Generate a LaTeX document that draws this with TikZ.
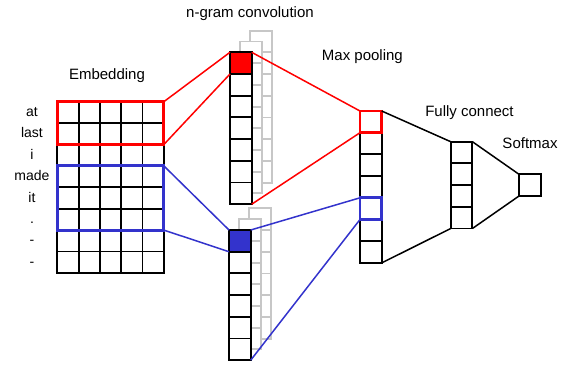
\documentclass[tikz,border=0pt]{standalone}
\usepackage{fontspec}
\setmainfont{Liberation Sans}
\usetikzlibrary{positioning,fit}
\definecolor{winblue}{RGB}{51,51,204}

\begin{document}
\begin{tikzpicture}[x=1pt,y=1pt,node distance=21.7pt,line width=1.9pt,
  cell/.style={rectangle,draw=black,fill=white,minimum size=21.7pt,inner sep=0pt,outer sep=0pt},
  embcell/.style={cell,minimum size=21.4pt},
  ghost/.style={cell,draw=black!22},
  window/.style={rectangle,line width=2.9pt,inner sep=0pt,outer sep=0pt},
  link/.style={line width=1.5pt},
  title/.style={font=\fontsize{15}{18}\selectfont},
  word/.style={font=\fontsize{14}{16}\selectfont,text height=10.5pt,text depth=2.5pt,inner sep=0pt}]

  \useasboundingbox (0,0) rectangle (567,-365);

  % titles
  \node[title] (tEmb) at (107,-75.7) {Embedding};
  \node[title] (tConv) at (250,-13.5) {n-gram convolution};
  \node[title] (tPool) at (362.4,-56.7) {Max pooling};
  \node[title] (tFc) at (469.5,-112.5) {Fully connect};
  \node[title] (tSoft) at (530,-142.7) {Softmax};

  % embedding matrix
  \foreach \r in {1,...,8}
    \foreach \c in {1,...,5}
      \node[embcell] (e\r\c) at ({46.65+21.3*\c},{-91-21.4*\r}) {};
  \foreach \w [count=\r] in {at,last,i,made,it,.,-,-}
    \node[word] (w\r) at ([xshift=-25.3pt]e\r1.west) {\w};

  \node[window,draw=red,fit=(e11)(e25)] (redwin) {};
  \node[window,draw=winblue,fit=(e41)(e65)] (bluewin) {};

  % convolution, upper (7 rows)
  \node[ghost] (gb1) at (261.25,-41.55) {};
  \foreach \i [remember=\i as \j (initially 1)] in {2,...,7}
    \node[ghost] (gb\i) [below of=gb\j] {};
  \node[ghost] (ga1) at (251.05,-52.35) {};
  \foreach \i [remember=\i as \j (initially 1)] in {2,...,7}
    \node[ghost] (ga\i) [below of=ga\j] {};
  \node[cell,fill=red] (ca1) at (240.85,-63.15) {};
  \foreach \i [remember=\i as \j (initially 1)] in {2,...,7}
    \node[cell] (ca\i) [below of=ca\j] {};

  % convolution, lower (6 rows)
  \node[ghost] (hb1) at (260.25,-219.25) {};
  \foreach \i [remember=\i as \j (initially 1)] in {2,...,6}
    \node[ghost] (hb\i) [below of=hb\j] {};
  \node[ghost] (ha1) at (250.05,-230.05) {};
  \foreach \i [remember=\i as \j (initially 1)] in {2,...,6}
    \node[ghost] (ha\i) [below of=ha\j] {};
  \node[cell,fill=winblue] (cb1) at (239.85,-240.85) {};
  \foreach \i [remember=\i as \j (initially 1)] in {2,...,6}
    \node[cell] (cb\i) [below of=cb\j] {};

  % max pooling
  \node[cell] (p1) at (370.85,-121.85) {};
  \foreach \i [remember=\i as \j (initially 1)] in {2,...,7}
    \node[cell] (p\i) [below of=p\j] {};
  \node[window,draw=red,fit=(p1)] (predwin) {};
  \node[window,draw=winblue,fit=(p5)] (pbluewin) {};

  % fully connected + softmax
  \node[cell] (f1) at (461.55,-152.55) {};
  \foreach \i [remember=\i as \j (initially 1)] in {2,...,4}
    \node[cell] (f\i) [below of=f\j] {};
  \node[cell] (sm) at (529.85,-185.15) {};

  % connectors
  \draw[link,red] (redwin.north east) -- (ca1.north west);
  \draw[link,red] (redwin.south east) -- (ca1.south west);
  \draw[link,red] (ca1.north east) -- (predwin.north west);
  \draw[link,red] (ca7.south east) -- (predwin.south west);

  \draw[link,winblue] (bluewin.north east) -- (cb1.north west);
  \draw[link,winblue] (bluewin.south east) -- (cb1.south west);
  \draw[link,winblue] (cb1.north east) -- (pbluewin.north west);
  \draw[link,winblue] (cb6.south east) -- (pbluewin.south west);

  \draw[link] (p1.north east) -- (f1.north west);
  \draw[link] (p7.south east) -- (f4.south west);
  \draw[link] (f1.north east) -- (sm.north west);
  \draw[link] (f4.south east) -- (sm.south west);

\end{tikzpicture}
\end{document}
